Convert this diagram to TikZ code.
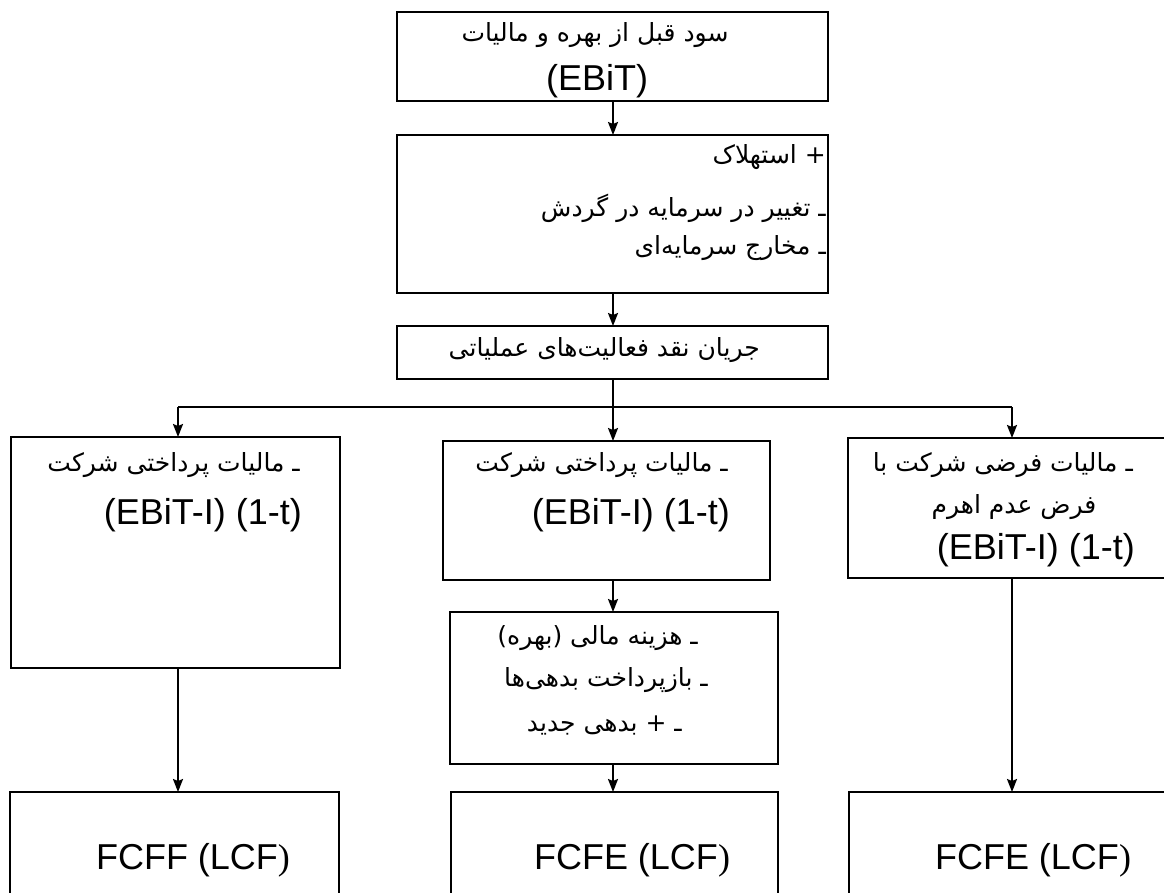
\documentclass[tikz,border=0pt]{standalone}
\usepackage{fontspec}
\setmainfont{Liberation Sans}
\newfontfamily\fa[Script=Arabic]{DejaVu Sans}
\newfontfamily\serifp{Liberation Serif}
\TeXXeTstate=1
\usetikzlibrary{arrows.meta}
\tikzset{
  bx/.style={draw, line width=2.2pt, inner sep=0pt, outer sep=0pt},
  arr/.style={line width=1.8pt, -{Stealth[length=13pt,width=10pt,inset=2pt]}},
  hline/.style={line width=1.6pt},
  fat/.style={font=\fontsize{25}{30}\selectfont\fa, inner sep=0pt},
  lat/.style={font=\fontsize{36}{40}\selectfont, inner sep=0pt},
}
\newcommand\mkbox[5]{\node[bx, minimum width={#4-#2}, minimum height={#5-#3}] (#1) at ({(#2+#4)/2},{(#3+#5)/2}) {};}
\begin{document}
\begin{tikzpicture}[x=1pt,y=-1pt]
\useasboundingbox (0,0) rectangle (1164,893);
\clip (0,0) rectangle (1164,893);
% boxes
\mkbox{b1}{397}{12}{828}{101}
\mkbox{b2}{397}{135}{828}{293}
\mkbox{b3}{397}{326}{828}{379}
\mkbox{L1}{11}{437}{340}{668}
\mkbox{M1}{443}{441}{770}{580}
\mkbox{R1}{848}{438}{1180}{578}
\mkbox{M2}{450}{612}{778}{764}
\mkbox{L3}{10}{792}{339}{910}
\mkbox{M3}{451}{792}{778}{910}
\mkbox{R3}{849}{792}{1180}{910}
% column coordinates
\coordinate (cm) at (613,0);
\coordinate (cl) at (178,0);
\coordinate (cr) at (1012,0);
\coordinate (hl) at (178,407);
\coordinate (hr) at (1012,407);
% connectors
\draw[arr] (b1.south -| cm) -- (b2.north -| cm);
\draw[arr] (b2.south -| cm) -- (b3.north -| cm);
\draw[arr] (b3.south -| cm) -- (M1.north -| cm);
\draw[hline] (hl) -- (hr);
\draw[arr] (hl) -- (L1.north -| hl);
\draw[arr] (hr) -- (R1.north -| hr);
\draw[arr] (L1.south -| cl) -- (L3.north -| cl);
\draw[arr] (M1.south -| cm) -- (M2.north -| cm);
\draw[arr] (M2.south -| cm) -- (M3.north -| cm);
\draw[arr] (R1.south -| cr) -- (R3.north -| cr);
% texts
\node[fat] (t1a) at (595,35) {\beginR سود قبل از بهره و مالیات\endR};
\node[lat] (t1b) at (597,81) {(EBiT)};
\node[fat, anchor=east] (t2a) at (826,157) {\beginR + استهلاک\endR};
\node[fat, anchor=east] (t2b) at (826,208) {\beginR ـ تغییر در سرمایه در گردش\endR};
\node[fat, anchor=east] (t2c) at (826,248) {\beginR ـ مخارج سرمایه‌ای\endR};
\node[fat, anchor=east] (t3) at (760,350) {\beginR جریان نقد فعالیت‌های عملیاتی\endR};
\node[fat, anchor=east] (l1a) at (300,465) {\beginR ـ مالیات پرداختی شرکت\endR};
\node[lat, anchor=east] (l1b) at (302,515) {(EBiT-I) (1-t)};
\node[fat, anchor=east] (m1a) at (728,465) {\beginR ـ مالیات پرداختی شرکت\endR};
\node[lat, anchor=east] (m1b) at (730,515) {(EBiT-I) (1-t)};
\node[fat, anchor=east] (r1a) at (1133,465) {\beginR ـ مالیات فرضی شرکت با\endR};
\node[fat] (r1b) at (1014,507) {\beginR فرض عدم اهرم\endR};
\node[lat, anchor=east] (r1c) at (1135,550) {(EBiT-I) (1-t)};
\node[fat, anchor=east] (m2a) at (698,638) {\beginR ـ هزینه مالی (بهره)\endR};
\node[fat, anchor=east] (m2b) at (708,680) {\beginR ـ بازپرداخت بدهی‌ها\endR};
\node[fat, anchor=east] (m2c) at (682,725) {\beginR ـ + بدهی جدید\endR};
\node[lat] (l3t) at (193,860) {FCFF (LCF{\serifp )}};
\node[lat] (m3t) at (632,860) {FCFE (LCF{\serifp )}};
\node[lat] (r3t) at (1033,860) {FCFE (LCF{\serifp )}};
\end{tikzpicture}
\end{document}
